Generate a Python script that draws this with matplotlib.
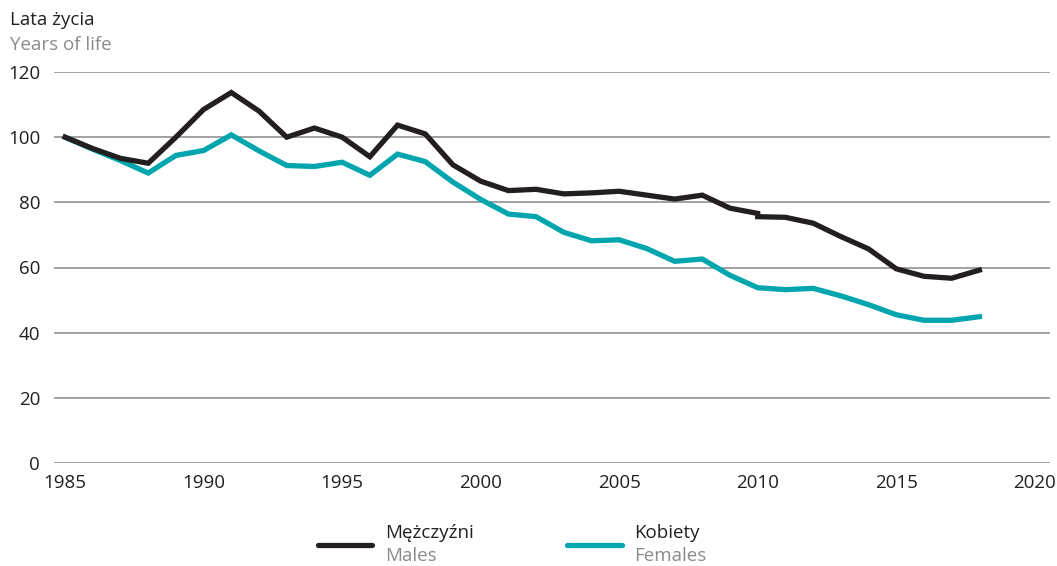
import matplotlib
matplotlib.use("Agg")
import matplotlib.pyplot as plt
from matplotlib.lines import Line2D

plt.rcParams['font.family'] = ['Open Sans', 'DejaVu Sans']

years_m = [1985, 1986, 1987, 1988, 1989, 1990, 1991, 1992, 1993, 1994, 1995, 1996,
           1997, 1998, 1999, 2000, 2001, 2002, 2003, 2004, 2005, 2006, 2007, 2008,
           2009, 2010, 2010, 2011, 2012, 2013, 2014, 2015, 2016, 2017, 2018]
males = [100, 96.5, 93.5, 92.0, 100.0, 108.5, 113.7, 108.0, 100.0, 102.8, 100.0, 94.0,
         103.7, 101.0, 91.5, 86.5, 83.6, 84.0, 82.6, 82.9, 83.4, 82.2, 81.0, 82.2,
         78.2, 76.6, 75.6, 75.4, 73.6, 69.5, 65.7, 59.6, 57.3, 56.7, 59.2]

years_f = list(range(1985, 2019))
females = [100, 96.3, 92.8, 89.0, 94.4, 95.9, 100.7, 95.8, 91.3, 91.0, 92.3, 88.3,
           94.8, 92.5, 86.2, 80.9, 76.4, 75.6, 70.8, 68.2, 68.5, 65.8, 61.9, 62.6,
           57.6, 53.8, 53.2, 53.6, 51.3, 48.6, 45.5, 43.8, 43.8, 44.9]

y_ticks = [0, 20, 40, 60, 80, 100, 120]
x_ticks = [1985, 1990, 1995, 2000, 2005, 2010, 2015, 2020]

BLACK = '#231f20'
TEAL = '#00a5ae'
GRAY = '#8a8a8a'
FS = 13.5

W, H = 1057, 566
fig = plt.figure(figsize=(W / 100, H / 100), dpi=100)
ax = fig.add_axes([54 / W, (H - 463) / H, (1050 - 54) / W, (463 - 72) / H])

for yv in y_ticks:
    ax.axhline(yv, color='#9a9a9a', lw=1.3, zorder=1)

ax.plot(years_f, females, color=TEAL, lw=3.8, solid_joinstyle='miter', zorder=3)
ax.plot(years_m, males, color=BLACK, lw=3.8, solid_joinstyle='miter', zorder=4)

ax.set_xlim(1984.6, 2020.55)
ax.set_ylim(0, 120)
ax.set_yticks(y_ticks)
ax.set_xticks(x_ticks)
for s in ax.spines.values():
    s.set_visible(False)
ax.tick_params(axis='both', length=0, labelsize=FS, colors=BLACK)
ax.tick_params(axis='y', pad=10)
ax.tick_params(axis='x', pad=8)

fig.text(10 / W, 1 - 20 / H, 'Lata życia', fontsize=FS, color=BLACK, va='center', ha='left')
fig.text(10 / W, 1 - 45 / H, 'Years of life', fontsize=FS, color=GRAY, va='center', ha='left')

# legend
fig.add_artist(Line2D([318 / W, 372 / W], [1 - 545 / H] * 2, color=BLACK, lw=3.8,
                      solid_capstyle='round', transform=fig.transFigure))
fig.text(385 / W, 1 - 533 / H, 'Mężczyźni', fontsize=FS, color=BLACK, va='center', ha='left')
fig.text(385 / W, 1 - 556 / H, 'Males', fontsize=FS, color=GRAY, va='center', ha='left')
fig.add_artist(Line2D([567 / W, 622 / W], [1 - 545 / H] * 2, color=TEAL, lw=3.8,
                      solid_capstyle='round', transform=fig.transFigure))
fig.text(634 / W, 1 - 533 / H, 'Kobiety', fontsize=FS, color=BLACK, va='center', ha='left')
fig.text(634 / W, 1 - 556 / H, 'Females', fontsize=FS, color=GRAY, va='center', ha='left')

fig.savefig('out.png', dpi=100)
